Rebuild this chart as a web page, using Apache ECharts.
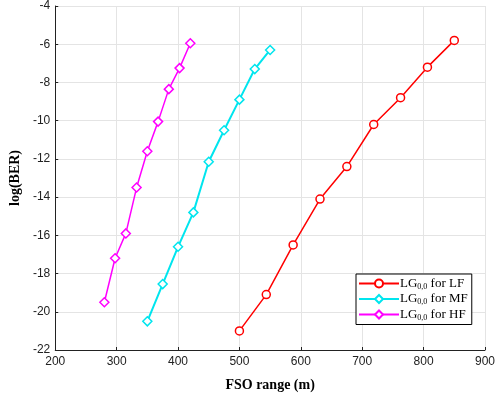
<!DOCTYPE html>
<html>
<head>
<meta charset="utf-8">
<script src="https://cdn.jsdelivr.net/npm/echarts@6/dist/echarts.min.js"></script>
<style>
html, body { margin: 0; padding: 0; background: #fff; }
#main { width: 498px; height: 397px; }
</style>
</head>
<body>
<div id="main"></div>
<script>
var names = ['LF', 'MF', 'HF'];
var lfRange = [500, 543.75, 587.5, 631.25, 675, 718.75, 762.5, 806.25, 850];
var lfBer = [-21.0, -19.1, -16.5, -14.1, -12.4, -10.2, -8.8, -7.2, -5.8];
var mfRange = [350, 375, 400, 425, 450, 475, 500, 525, 550];
var mfBer = [-20.5, -18.55, -16.6, -14.8, -12.15, -10.5, -8.9, -7.3, -6.3];
var hfRange = [280, 297.5, 315, 332.5, 350, 367.5, 385, 402.5, 420];
var hfBer = [-19.5, -17.2, -15.9, -13.5, -11.6, -10.05, -8.35, -7.25, -5.95];

function pairs(xs, ys) {
    return xs.map(function (x, i) { return [x, ys[i]]; });
}

var myChart = echarts.init(document.getElementById('main'));
var serif = '"Liberation Serif", "Times New Roman", serif';
var sans = '"Liberation Sans", Arial, sans-serif';

function mkSeries(name, data, color, symbol, size, width) {
    return {
        name: name,
        type: 'line',
        data: data,
        symbol: symbol,
        symbolSize: size,
        showAllSymbol: true,
        lineStyle: { color: color, width: width },
        itemStyle: { color: '#fff', borderColor: color, borderWidth: 1.5 },
        emphasis: { disabled: true },
        animation: false
    };
}

option = {
    backgroundColor: '#fff',
    grid: { left: 47, right: 13, top: 5, bottom: 45 },
    legend: {
        orient: 'vertical',
        left: 356,
        top: 274,
        padding: [3, 4, 3, 2],
        itemGap: 2,
        itemWidth: 40,
        itemHeight: 10,
        backgroundColor: '#fff',
        borderColor: '#000',
        borderWidth: 1,
        borderRadius: 0,
        data: names,
        formatter: function (n) {
            return '{a|LG}{s|0,0}{a| for ' + n + '}';
        },
        textStyle: {
            padding: [0, 0, 0, -4],
            rich: {
                a: { fontFamily: serif, fontSize: 13, color: '#000', lineHeight: 14 },
                s: { fontFamily: serif, fontSize: 8, color: '#000', verticalAlign: 'bottom', lineHeight: 10 }
            }
        }
    },
    xAxis: {
        type: 'value',
        min: 200,
        max: 900,
        interval: 100,
        name: 'FSO range (m)',
        nameLocation: 'middle',
        nameGap: 28,
        nameTextStyle: { fontFamily: serif, fontSize: 14, fontWeight: 'bold', color: '#000' },
        axisLine: { lineStyle: { color: '#222', width: 1 } },
        axisTick: { inside: true, length: 3, lineStyle: { color: '#222' } },
        axisLabel: { fontFamily: sans, fontSize: 12, color: '#222', margin: 6 },
        splitLine: { show: true, lineStyle: { color: '#e4e4e4', width: 1 } }
    },
    yAxis: {
        type: 'value',
        min: -22,
        max: -4,
        interval: 2,
        name: 'log(BER)',
        nameLocation: 'middle',
        nameGap: 32,
        nameTextStyle: { fontFamily: serif, fontSize: 14, fontWeight: 'bold', color: '#000' },
        axisLine: { show: true, lineStyle: { color: '#222', width: 1 } },
        axisTick: { show: true, inside: true, length: 3, lineStyle: { color: '#222' } },
        axisLabel: { fontFamily: sans, fontSize: 12, color: '#222', margin: 5 },
        splitLine: { show: true, lineStyle: { color: '#e4e4e4', width: 1 } }
    },
    series: [
        mkSeries('LF', pairs(lfRange, lfBer), '#ff0000', 'circle', 8, 1.5),
        mkSeries('MF', pairs(mfRange, mfBer), '#00e5ee', 'diamond', 9, 2),
        mkSeries('HF', pairs(hfRange, hfBer), '#ff00ff', 'diamond', 9, 1.5)
    ]
};

myChart.setOption(option, true);
</script>
</body>
</html>
